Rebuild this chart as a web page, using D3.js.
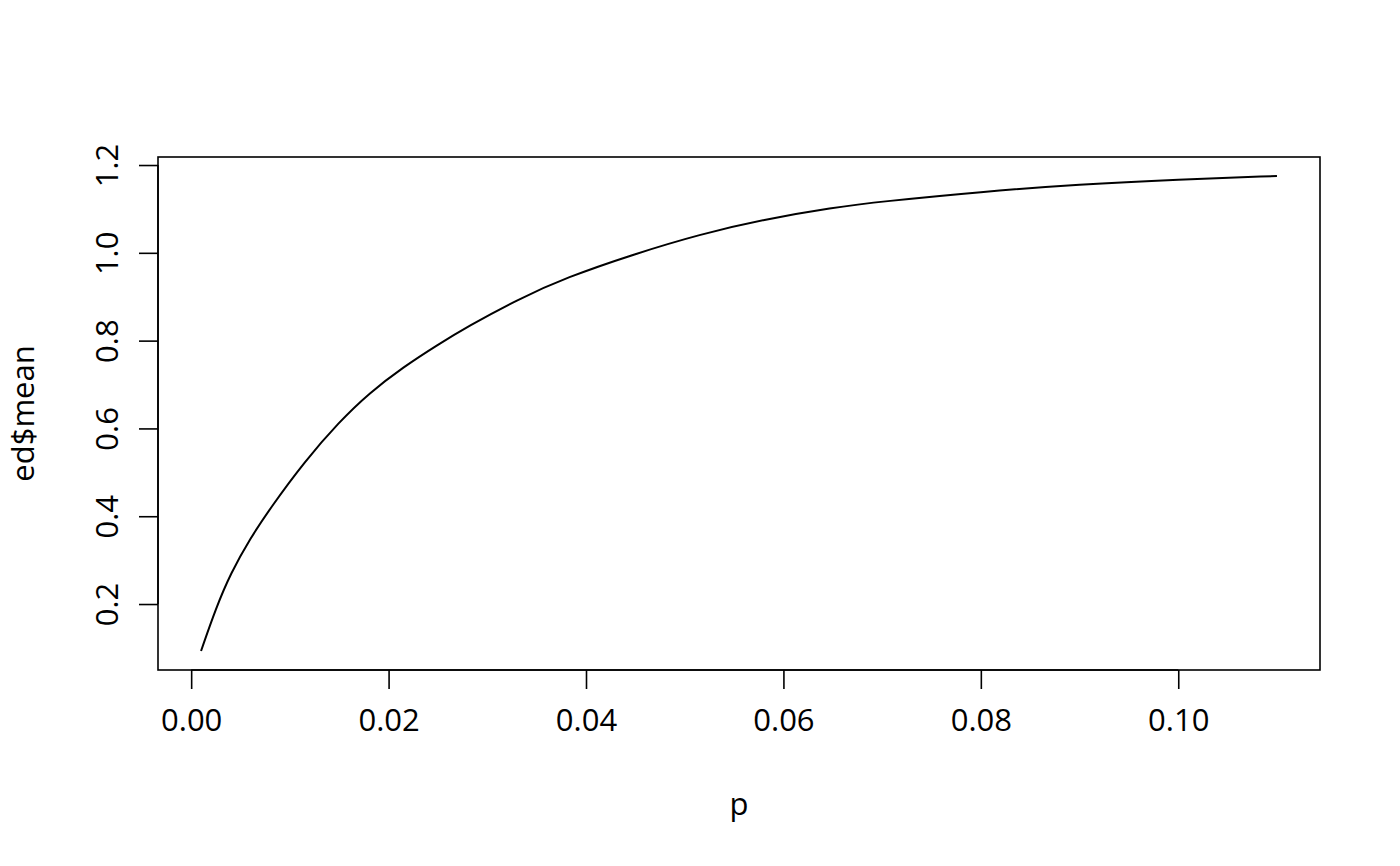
<!DOCTYPE html>
<html>
<head>
<meta charset="utf-8">
<script src="https://cdn.jsdelivr.net/npm/d3@7"></script>
<style>
  body { margin: 0; background: #fff; }
  text { font-family: "Open Sans", "Noto Sans", sans-serif; fill: #000; }
</style>
</head>
<body>
<script>
// values
var pValues = [0.001, 0.0025, 0.004, 0.006, 0.008, 0.0115, 0.015, 0.018, 0.0215, 0.025,
               0.028, 0.033, 0.038, 0.045, 0.0515, 0.058, 0.065, 0.070, 0.080, 0.090,
               0.100, 0.110];
var meanValues = [0.093, 0.190, 0.270, 0.350, 0.418, 0.525, 0.615, 0.680, 0.740, 0.791,
                  0.832, 0.893, 0.944, 0.998, 1.042, 1.076, 1.103, 1.117, 1.139, 1.156,
                  1.167, 1.175];
var xTicks = [0.00, 0.02, 0.04, 0.06, 0.08, 0.10];
var yTicks = [0.2, 0.4, 0.6, 0.8, 1.0, 1.2];

var width = 1400, height = 866;
var plotLeft = 158, plotRight = 1320, plotTop = 157, plotBottom = 670;
var fontSize = "31px";

var data = pValues.map(function (p, i) { return { p: p, mean: meanValues[i] }; });

// R style 4% padding of the domain
function pad(ext) {
    var d = (ext[1] - ext[0]) * 0.04;
    return [ext[0] - d, ext[1] + d];
}

var xScale = d3.scaleLinear().domain(pad(d3.extent(pValues))).range([plotLeft, plotRight]);
var yScale = d3.scaleLinear().domain(pad(d3.extent(meanValues))).range([plotBottom, plotTop]);

var svg = d3.select("body").append("svg")
    .attr("width", width)
    .attr("height", height);

var xAxisGen = d3.axisBottom(xScale)
    .tickValues(xTicks)
    .tickFormat(d3.format(".2f"))
    .tickSize(19)
    .tickPadding(20);
var yAxisGen = d3.axisLeft(yScale)
    .tickValues(yTicks)
    .tickFormat(d3.format(".1f"))
    .tickSize(19);

var xAxis = svg.append("g")
    .attr("transform", "translate(0," + plotBottom + ")")
    .call(xAxisGen);
xAxis.select(".domain")
    .attr("d", "M" + xScale(xTicks[0]) + ",0H" + xScale(xTicks[xTicks.length - 1]));

var yAxis = svg.append("g")
    .attr("transform", "translate(" + plotLeft + ",0)")
    .call(yAxisGen);
yAxis.select(".domain")
    .attr("d", "M0," + yScale(yTicks[0]) + "V" + yScale(yTicks[yTicks.length - 1]));
yAxis.selectAll(".tick text")
    .attr("x", 0)
    .attr("y", 0)
    .attr("dy", null)
    .attr("text-anchor", "middle")
    .attr("transform", "translate(-40,0) rotate(-90)");

svg.selectAll(".tick text").style("font-size", fontSize);
svg.selectAll(".domain, .tick line").attr("stroke", "#000").attr("stroke-width", 1.6);

svg.append("rect")
    .attr("x", plotLeft).attr("y", plotTop)
    .attr("width", plotRight - plotLeft).attr("height", plotBottom - plotTop)
    .attr("fill", "none").attr("stroke", "#000").attr("stroke-width", 1.6);

var linefunc = d3.line()
    .x(function (d) { return xScale(d.p); })
    .y(function (d) { return yScale(d.mean); })
    .curve(d3.curveBasis);

svg.append("path")
    .attr("d", linefunc(data))
    .attr("fill", "none")
    .attr("stroke", "#000")
    .attr("stroke-width", 2);

svg.append("text")
    .attr("x", (plotLeft + plotRight) / 2)
    .attr("y", 815)
    .attr("text-anchor", "middle")
    .style("font-size", fontSize)
    .text("p");

svg.append("text")
    .attr("transform", "translate(34," + ((plotTop + plotBottom) / 2) + ") rotate(-90)")
    .attr("text-anchor", "middle")
    .style("font-size", fontSize)
    .text("ed$mean");
</script>
</body>
</html>
